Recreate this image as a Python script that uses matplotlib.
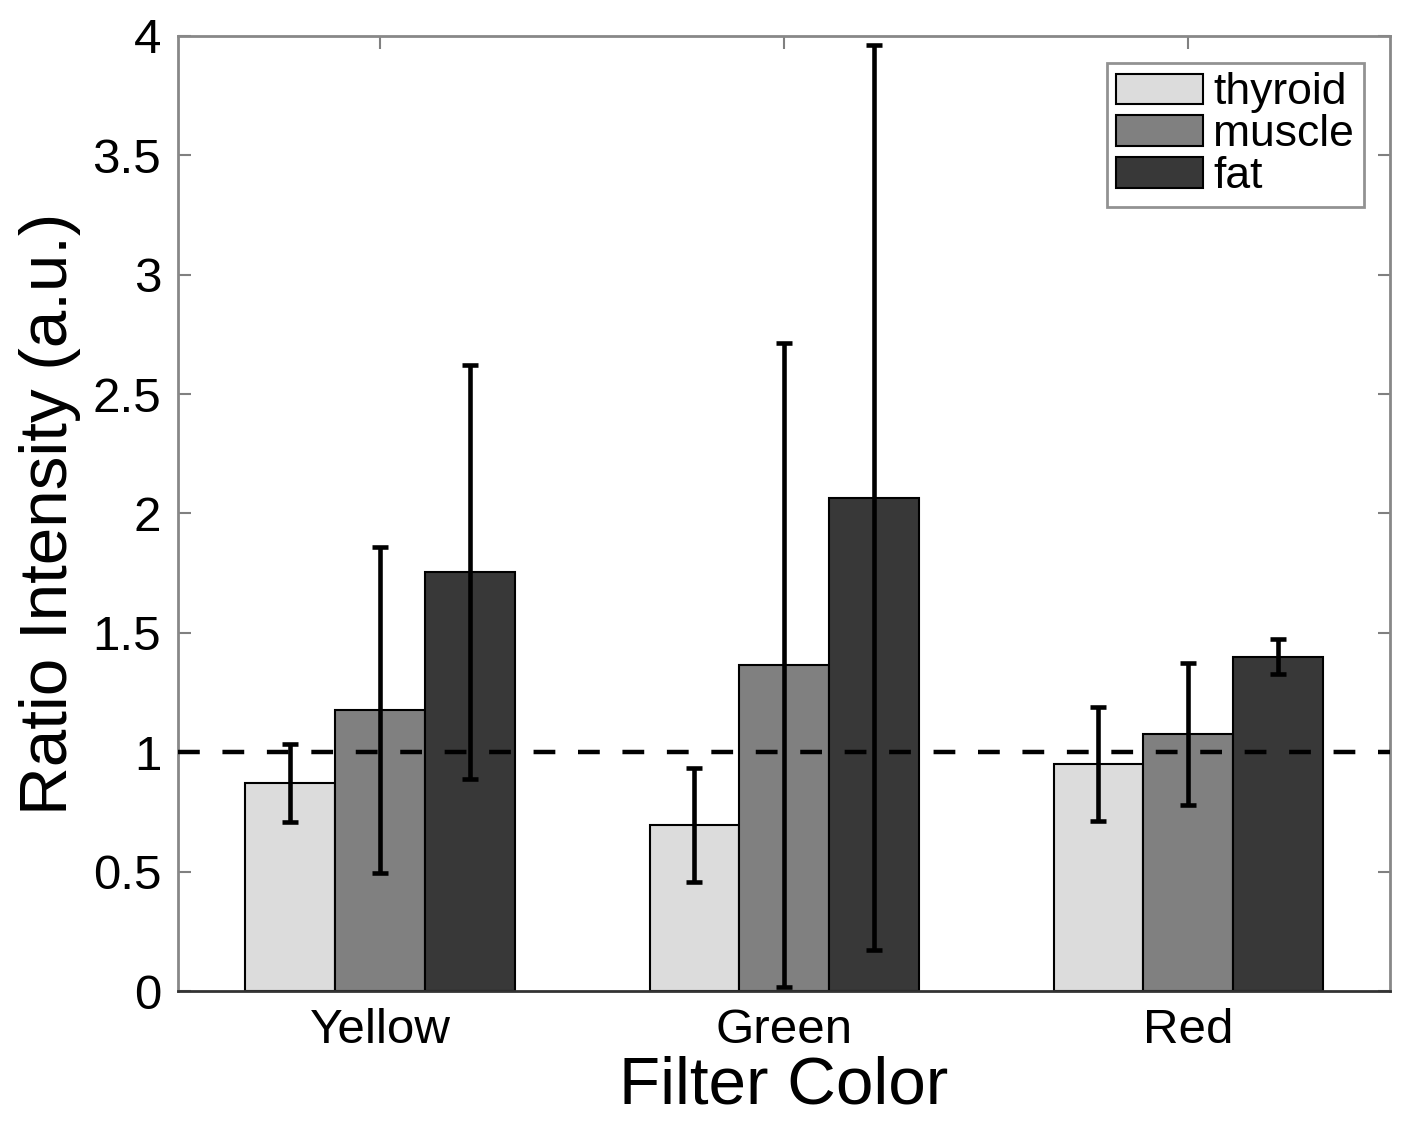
import matplotlib
matplotlib.use("Agg")
import matplotlib.pyplot as plt
import numpy as np

categories = ["Yellow", "Green", "Red"]
series = ["thyroid", "muscle", "fat"]
thyroid = [0.871, 0.695, 0.951]
muscle = [1.177, 1.365, 1.078]
fat = [1.755, 2.065, 1.401]
thyroid_err = [0.165, 0.240, 0.237]
muscle_err = [0.683, 1.350, 0.297]
fat_err = [0.868, 1.895, 0.075]
colors = ["#dcdcdc", "#808080", "#383838"]

plt.rcParams['font.family'] = ['Liberation Sans', 'DejaVu Sans']

fig = plt.figure(figsize=(14.17, 11.23), dpi=100)
ax = fig.add_axes([0.1256, 0.1175, 0.8555, 0.8505])

x = np.arange(1, len(categories) + 1)
w = 0.222
vals = [thyroid, muscle, fat]
errs = [thyroid_err, muscle_err, fat_err]
for i, (v, e, c, name) in enumerate(zip(vals, errs, colors, series)):
    xs = x + (i - 1) * w
    ax.bar(xs, v, width=w, color=c, edgecolor="black", linewidth=1.5, label=name, zorder=2)
    ax.errorbar(xs, v, yerr=e, fmt="none", ecolor="black", elinewidth=3.3,
                capsize=5.6, capthick=3.3, zorder=4)

ax.axhline(1.0, color="black", linewidth=3.2, dashes=(4.9, 5.1), zorder=3)

ax.set_xlim(0.5, 3.5)
ax.set_ylim(0, 4)
ax.set_xticks(x)
ax.set_xticklabels(categories)
ax.set_yticks(np.arange(0, 4.01, 0.5))
ax.set_yticklabels(["0", "0.5", "1", "1.5", "2", "2.5", "3", "3.5", "4"])
ax.tick_params(axis="both", direction="in", length=9, width=1.5, color="#808080",
               labelsize=35.5, top=True, right=True, pad=12)
for s in ax.spines.values():
    s.set_color("#888888")
    s.set_linewidth(2.0)
ax.spines['bottom'].set_color("#333333")

ax.set_xlabel("Filter Color", fontsize=48.5, labelpad=2)
ax.set_ylabel("Ratio Intensity (a.u.)", fontsize=48.5, labelpad=8)

leg = ax.legend(loc="upper right", fontsize=32, frameon=True, fancybox=False,
                handlelength=1.95, handleheight=0.68, handletextpad=0.22,
                labelspacing=0.02, borderpad=0.22, borderaxespad=0.6)
leg.get_frame().set_edgecolor("#777777")
leg.get_frame().set_linewidth(2.0)

fig.savefig("out.png", dpi=100)
